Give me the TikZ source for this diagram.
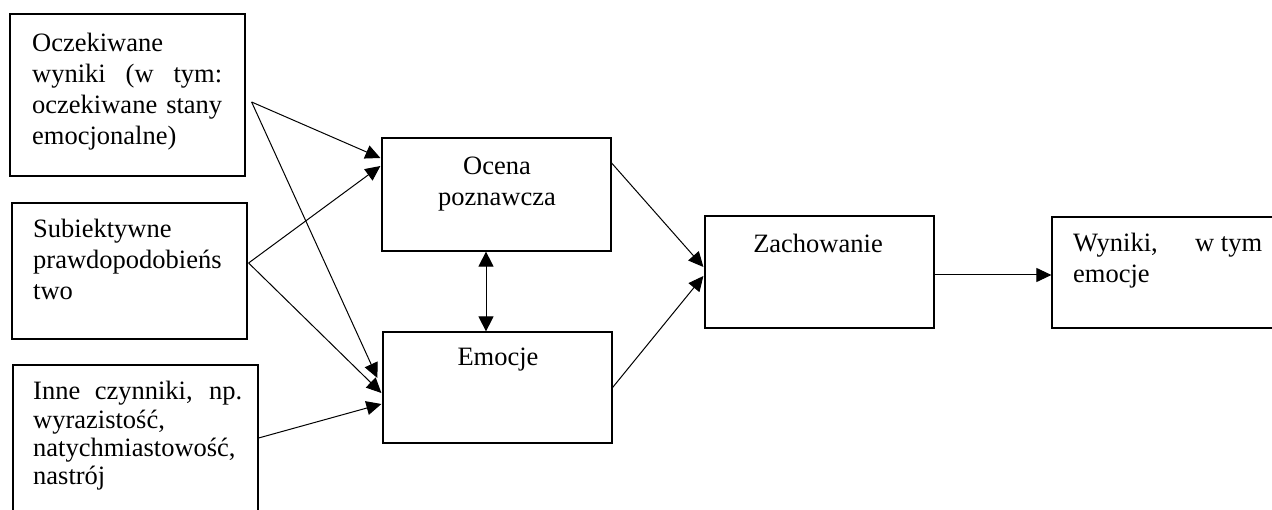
\documentclass[tikz,border=0pt]{standalone}
\usepackage{fontspec}
\setmainfont{Liberation Serif}
\usetikzlibrary{arrows.meta,calc}
\begin{document}
\begin{tikzpicture}[x=1pt,y=-1pt,
  box/.style={draw, rectangle, line width=1.2pt, inner sep=0pt},
  txt/.style={inner sep=0pt, font=\fontsize{26.5pt}{31pt}\selectfont},
  arr/.style={line width=1pt, -{Triangle[length=15pt,width=14pt]}},
  dblarr/.style={line width=1pt, {Triangle[length=15pt,width=15pt]}-{Triangle[length=15pt,width=15pt]}},
]
\clip (0,0) rectangle (1272,510);
\fill[white] (0,0) rectangle (1272,510);

% boxes
\node[box, minimum width=235pt, minimum height=162pt] (A) at (127.5,95) {};
\node[box, minimum width=235pt, minimum height=136pt] (B) at (129.5,271) {};
\node[box, minimum width=245pt, minimum height=175pt] (C) at (135.5,452.5) {};
\node[box, minimum width=229pt, minimum height=113pt] (D) at (496.5,194.5) {};
\node[box, minimum width=229pt, minimum height=111pt] (E) at (497.5,387.5) {};
\node[box, minimum width=229pt, minimum height=112pt] (F) at (819.5,272) {};
\node[box, minimum width=238pt, minimum height=111pt] (G) at (1171,272.5) {};

% texts
\node[txt, anchor=base west] (tA) at (32,52) {\parbox[t]{190pt}{Oczekiwane\\
  \makebox[\linewidth][s]{wyniki (w tym:}\\
  \makebox[\linewidth][s]{oczekiwane stany}\\
  emocjonalne)}};
\node[txt, anchor=base west] (tB) at (33,238) {\parbox[t]{190pt}{Subiektywne\\
  prawdopodobieńs\\ two}};
\node[txt, anchor=base west, font=\fontsize{26.5pt}{28.3pt}\selectfont] (tC) at (33,400)
  {\parbox[t]{209pt}{\makebox[\linewidth][s]{Inne czynniki, np.}\\
  wyrazistość,\\ natychmiastowość,\\ nastrój}};
\node[txt, anchor=base] (tD) at (497,175) {\parbox[t]{200pt}{\centering Ocena\\ poznawcza}};
\node[txt, anchor=base] (tE) at (498,366) {Emocje};
\node[txt, anchor=base] (tF) at (818,253) {Zachowanie};
\node[txt, anchor=base west] (tG) at (1073,252) {\parbox[t]{189pt}{%
  \makebox[\linewidth][s]{Wyniki,\hfill w tym}\\ emocje}};

% connectors
\draw[arr] ([xshift=6pt,yshift=-7pt]A.east) -- ([xshift=-1pt,yshift=36.5pt]D.west);
\draw[arr] ([xshift=6pt,yshift=-7pt]A.east) -- ([xshift=-5pt,yshift=9.5pt]E.west);
\draw[arr] ([xshift=1pt,yshift=8pt]B.east) -- ([xshift=-1pt,yshift=28.5pt]D.west);
\draw[arr] ([xshift=1pt,yshift=8pt]B.east) -- ([xshift=-1pt,yshift=-5.5pt]E.west);
\draw[arr] ([yshift=14.5pt]C.east) -- ([xshift=-1pt,yshift=-16.5pt]E.west);
\draw[arr] ([yshift=31.5pt]D.east) -- ([xshift=-1pt,yshift=5pt]F.west);
\draw[arr] (E.east) -- ([xshift=-1pt,yshift=-4pt]F.west);
\draw[dblarr] ([xshift=-10.5pt]D.south) -- ([xshift=-10.5pt]D.south |- E.north);
\draw[arr] ([yshift=-3pt]F.east) -- ([yshift=-3pt]F.east -| G.west);
\end{tikzpicture}
\end{document}
